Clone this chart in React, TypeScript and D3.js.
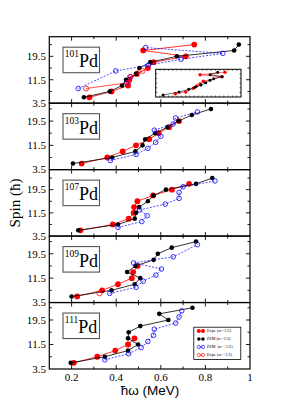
import React from 'react';
import * as d3 from 'd3';

type P = [number, number];

const isotopes = ['101', '103', '107', '109', '111'];
const spinTop = [26.2, 25.4, 26.4, 25.3, 25.2];
const spinBottom = 3.5;
const xMajor = [0.2, 0.4, 0.6, 0.8];
const xMinor = [0.3, 0.5, 0.7, 0.9];
const xLabels = [0.2, 0.4, 0.6, 0.8, 1];
const yMajor = [3.5, 11.5, 19.5];
const yMinor = [7.5, 15.5, 23.5];

// 101Pd
const pd101ExptNeg: P[] = [[0.28, 5.5], [0.379, 7.5], [0.453, 9.5], [0.459, 11.5], [0.493, 13.5], [0.542, 15.5], [0.568, 17.5], [0.712, 19.5], [0.521, 21.5], [0.75, 23.5]];
const pd101PsmNeg: P[] = [[0.255, 5.5], [0.371, 7.5], [0.426, 9.5], [0.444, 11.5], [0.489, 13.5], [0.504, 15.5], [0.553, 17.5], [0.672, 19.5], [0.929, 21.5], [0.95, 23.5]];
const pd101PsmPos: P[] = [[0.23, 8.5], [0.398, 14.5], [0.545, 16.5], [0.691, 18.5], [0.878, 20.5], [0.532, 22.5]];
const pd101PsmPosB: P[] = [[0.446, 10.5], [0.465, 12.5]];
const pd101ExptPos: P[] = [[0.265, 8.5], [0.455, 10.5], [0.462, 12.5], [0.518, 14.5]];
// 103Pd
const pd103ExptNeg: P[] = [[0.245, 5.5], [0.36, 7.5], [0.429, 9.5], [0.489, 11.5], [0.548, 13.5], [0.59, 15.5], [0.6375, 17.5], [0.682, 19.5]];
const pd103PsmNeg: P[] = [[0.206, 5.5], [0.382, 7.5], [0.486, 9.5], [0.518, 11.5], [0.53, 13.5], [0.575, 15.5], [0.63, 17.5], [0.679, 19.5], [0.739, 21.5], [0.825, 23.5]];
const pd103PsmPos: P[] = [[0.374, 6.5], [0.489, 8.5], [0.542, 10.5], [0.577, 12.5], [0.6, 14.5], [0.571, 16.5], [0.655, 18.5], [0.666, 20.5], [0.764, 22.5]];
// 107Pd
const pd107ExptNeg: P[] = [[0.24, 5.5], [0.385, 7.5], [0.456, 9.5], [0.478, 11.5], [0.48, 13.5], [0.495, 15.5], [0.565, 17.5], [0.65, 19.5], [0.727, 21.5]];
const pd107PsmNeg: P[] = [[0.23, 5.5], [0.408, 7.5], [0.483, 9.5], [0.489, 11.5], [0.503, 13.5], [0.542, 15.5], [0.568, 17.5], [0.623, 19.5], [0.758, 21.5], [0.831, 23.5]];
const pd107PsmPos: P[] = [[0.408, 6.5], [0.515, 8.5], [0.539, 10.5], [0.505, 12.5], [0.62, 14.5], [0.682, 16.5], [0.682, 18.5], [0.7, 20.5], [0.843, 22.5]];
// 109Pd
const pd109ExptNeg: P[] = [[0.225, 5.5], [0.337, 7.5], [0.408, 9.5], [0.47, 11.5], [0.476, 13.5], [0.496, 15.5]];
const pd109ExptPos: P[] = [[0.325, 6.5]];
const pd109PsmNeg: P[] = [[0.2, 5.5], [0.379, 7.5], [0.483, 9.5], [0.508, 11.5], [0.449, 13.5], [0.486, 15.5], [0.568, 17.5], [0.587, 19.5], [0.649, 21.5], [0.758, 23.5]];
const pd109PsmPos: P[] = [[0.371, 6.5], [0.489, 8.5], [0.521, 10.5], [0.578, 12.5], [0.603, 14.5], [0.478, 16.5], [0.656, 18.5], [0.764, 22.5]];
// 111Pd
const pd111ExptNeg: P[] = [[0.21, 5.5], [0.315, 7.5], [0.396, 9.5], [0.453, 11.5], [0.482, 13.5]];
const pd111PsmNeg: P[] = [[0.196, 5.5], [0.349, 7.5], [0.453, 9.5], [0.498, 11.5], [0.453, 13.5], [0.456, 15.5], [0.508, 17.5], [0.634, 19.5], [0.593, 21.5], [0.742, 23.5]];
const pd111PsmPos: P[] = [[0.349, 6.5], [0.456, 8.5], [0.512, 10.5], [0.542, 12.5], [0.567, 14.5], [0.571, 16.5], [0.667, 18.5], [0.682, 20.5], [0.694, 22.5]];

// inset (101Pd), relative units
const insetPsm: P[] = [[0.086, 0.072], [0.273, 0.18], [0.387, 0.278], [0.461, 0.35], [0.531, 0.433], [0.586, 0.516], [0.637, 0.603], [0.68, 0.66], [0.78, 0.733], [0.637, 0.805], [0.727, 0.892]];
const insetExpt: P[] = [[0.23, 0.12], [0.352, 0.18], [0.44, 0.314], [0.48, 0.397], [0.52, 0.47], [0.558, 0.567], [0.774, 0.733], [0.52, 0.805], [0.812, 0.892]];

const exptNeg: P[][] = [pd101ExptNeg, pd103ExptNeg, pd107ExptNeg, pd109ExptNeg, pd111ExptNeg];
const psmNeg: P[][] = [pd101PsmNeg, pd103PsmNeg, pd107PsmNeg, pd109PsmNeg, pd111PsmNeg];
const psmPos: P[][][] = [[pd101PsmPos, pd101PsmPosB], [pd103PsmPos], [pd107PsmPos], [pd109PsmPos], [pd111PsmPos]];
const exptPos: P[][] = [pd101ExptPos, [], [], pd109ExptPos, []];

const legendLabels = ['Expt. (\u03b1=-1/2)', 'PSM (\u03b1=-1/2)', 'PSM  (\u03b1=+1/2)', 'Expt. (\u03b1=+1/2)'];

const RED = '#ff0000';
const BLUE = '#0000ff';
const SERIF = '"Liberation Serif", "Times New Roman", serif';
const SANS = '"Liberation Sans", Arial, sans-serif';

export default function App() {
  const left = 49.3, right = 250, top0 = 36.7, bottom = 369;
  const ph = (bottom - top0) / 5;
  const x = d3.scaleLinear().domain([0.1, 1]).range([left, right]);

  const panels = isotopes.map((iso, i) => {
    const t = top0 + i * ph;
    const b = t + ph;
    const y = d3.scaleLinear().domain([spinBottom, spinTop[i]]).range([b, t]);
    const line = d3.line<P>().x(d => x(d[0])).y(d => y(d[1]));
    return (
      <g key={iso}>
        <rect x={left} y={t} width={right - left} height={ph} fill="none" stroke="#000" strokeWidth={1.2} />
        {xMajor.map(v => (
          <g key={'xm' + v}>
            <line x1={x(v)} x2={x(v)} y1={b} y2={b - 4} stroke="#000" strokeWidth={0.9} />
            <line x1={x(v)} x2={x(v)} y1={t} y2={t + 4} stroke="#000" strokeWidth={0.9} />
          </g>
        ))}
        {xMinor.map(v => (
          <g key={'xn' + v}>
            <line x1={x(v)} x2={x(v)} y1={b} y2={b - 2.5} stroke="#000" strokeWidth={0.9} />
            <line x1={x(v)} x2={x(v)} y1={t} y2={t + 2.5} stroke="#000" strokeWidth={0.9} />
          </g>
        ))}
        {yMajor.filter(v => v > spinBottom).map(v => (
          <g key={'ym' + v}>
            <line x1={left} x2={left + 4} y1={y(v)} y2={y(v)} stroke="#000" strokeWidth={0.9} />
            <line x1={right} x2={right - 4} y1={y(v)} y2={y(v)} stroke="#000" strokeWidth={0.9} />
          </g>
        ))}
        {yMinor.map(v => (
          <g key={'yn' + v}>
            <line x1={left} x2={left + 2.5} y1={y(v)} y2={y(v)} stroke="#000" strokeWidth={0.9} />
            <line x1={right} x2={right - 2.5} y1={y(v)} y2={y(v)} stroke="#000" strokeWidth={0.9} />
          </g>
        ))}
        {yMajor.map(v => (
          <text key={'yl' + v} x={46} y={y(v)} dy="0.35em" textAnchor="end" fontFamily={SERIF} fontSize={11}>{v}</text>
        ))}
        {/* label box */}
        <rect x={63} y={t + 10.5} width={36.5} height={25.5} fill="#fff" stroke="#555" strokeWidth={1.1} />
        <text x={64.8} y={t + 30.5} fontFamily={SERIF}>
          <tspan fontSize={9.5} dy={-9.8}>{iso}</tspan>
          <tspan fontSize={18} dy={9.8}>Pd</tspan>
        </text>
        {/* series */}
        <path d={line(exptNeg[i]) || ''} fill="none" stroke={RED} strokeWidth={0.8} />
        {exptNeg[i].map((d, k) => (
          <circle key={'en' + k} cx={x(d[0])} cy={y(d[1])} r={2.9} fill={RED} />
        ))}
        <path d={line(psmNeg[i]) || ''} fill="none" stroke="#000" strokeWidth={0.8} />
        {psmNeg[i].map((d, k) => (
          <circle key={'pn' + k} cx={x(d[0])} cy={y(d[1])} r={2.3} fill="#000" />
        ))}
        {psmPos[i].map((seg, s) => (
          <g key={'pp' + s}>
            <path d={line(seg) || ''} fill="none" stroke={BLUE} strokeWidth={0.7} strokeDasharray="2,1.5" />
            {seg.map((d, k) => (
              <circle key={k} cx={x(d[0])} cy={y(d[1])} r={2.3} fill="none" stroke={BLUE} strokeWidth={0.8} />
            ))}
          </g>
        ))}
        {exptPos[i].length > 1 && <path d={line(exptPos[i]) || ''} fill="none" stroke={RED} strokeWidth={0.7} />}
        {exptPos[i].map((d, k) => (
          <circle key={'ep' + k} cx={x(d[0])} cy={y(d[1])} r={2.5} fill="none" stroke={RED} strokeWidth={0.8} />
        ))}
      </g>
    );
  });

  // inset
  const ix = d3.scaleLinear().domain([0, 1]).range([155.7, 241]);
  const iy = d3.scaleLinear().domain([0, 1]).range([97, 69.3]);
  const iline = d3.line<P>().x(d => ix(d[0])).y(d => iy(d[1]));
  const ixTicks = d3.range(1, 20).map(k => k / 20);
  const iyTicks = d3.range(1, 6).map(k => k / 6);

  const legendY = [331, 339, 347, 355];

  return (
    <svg width={286} height={404} style={{ position: 'absolute', left: 0, top: 0 }} xmlns="http://www.w3.org/2000/svg">
      <rect width={286} height={404} fill="#fff" />
      {panels}
      {/* inset */}
      <g>
        <rect x={155.7} y={69.3} width={85.3} height={27.7} fill="#fff" stroke="#000" strokeWidth={1} />
        {ixTicks.map(v => (
          <g key={'ix' + v}>
            <line x1={ix(v)} x2={ix(v)} y1={97} y2={95.5} stroke="#000" strokeWidth={0.6} />
            <line x1={ix(v)} x2={ix(v)} y1={69.3} y2={70.8} stroke="#000" strokeWidth={0.6} />
          </g>
        ))}
        {iyTicks.map(v => (
          <g key={'iy' + v}>
            <line x1={155.7} x2={157.2} y1={iy(v)} y2={iy(v)} stroke="#000" strokeWidth={0.6} />
            <line x1={241} x2={239.5} y1={iy(v)} y2={iy(v)} stroke="#000" strokeWidth={0.6} />
          </g>
        ))}
        <path d={iline(insetExpt) || ''} fill="none" stroke={RED} strokeWidth={0.6} />
        {insetExpt.map((d, k) => (
          <circle key={'ie' + k} cx={ix(d[0])} cy={iy(d[1])} r={1.7} fill={RED} />
        ))}
        <path d={iline(insetPsm) || ''} fill="none" stroke="#000" strokeWidth={0.6} />
        {insetPsm.map((d, k) => (
          <circle key={'ip' + k} cx={ix(d[0])} cy={iy(d[1])} r={1.5} fill="#000" />
        ))}
      </g>
      {/* x tick labels */}
      {xLabels.map(v => (
        <text key={'xl' + v} x={x(v)} y={381} textAnchor="middle" fontFamily={SERIF} fontSize={11}>{v}</text>
      ))}
      <text x={150} y={395} textAnchor="middle" fontFamily={SANS} fontSize={13.5}>{'\u0127\u03c9 (MeV)'}</text>
      <text transform="translate(20,203) rotate(-90)" textAnchor="middle" fontFamily={SERIF} fontSize={15}>{'Spin (\u0127)'}</text>
      {/* legend */}
      <g>
        <rect x={193.8} y={327.2} width={47} height={32.3} fill="#fff" stroke="#000" strokeWidth={0.8} />
        {legendLabels.map((lab, k) => {
          const ly = legendY[k];
          const c1 = 198.8, c2 = 203;
          let marks;
          if (k === 0) marks = [c1, c2].map(c => <circle key={c} cx={c} cy={ly} r={2} fill={RED} />);
          else if (k === 1) marks = [c1, c2].map(c => <circle key={c} cx={c} cy={ly} r={1.7} fill="#000" />);
          else if (k === 2) marks = [c1, c2].map(c => <circle key={c} cx={c} cy={ly} r={1.7} fill="none" stroke={BLUE} strokeWidth={0.6} />);
          else marks = [c1, c2].map(c => <circle key={c} cx={c} cy={ly} r={1.7} fill="none" stroke={RED} strokeWidth={0.6} />);
          const col = k === 0 ? RED : k === 1 ? '#000' : k === 2 ? BLUE : RED;
          return (
            <g key={lab}>
              <line x1={c1} x2={c2} y1={ly} y2={ly} stroke={col} strokeWidth={0.5} />
              {marks}
              <text x={207} y={ly} dy="0.35em" fontFamily={SERIF} fontSize={4.2} style={{ whiteSpace: 'pre' }}>{lab}</text>
            </g>
          );
        })}
      </g>
    </svg>
  );
}
